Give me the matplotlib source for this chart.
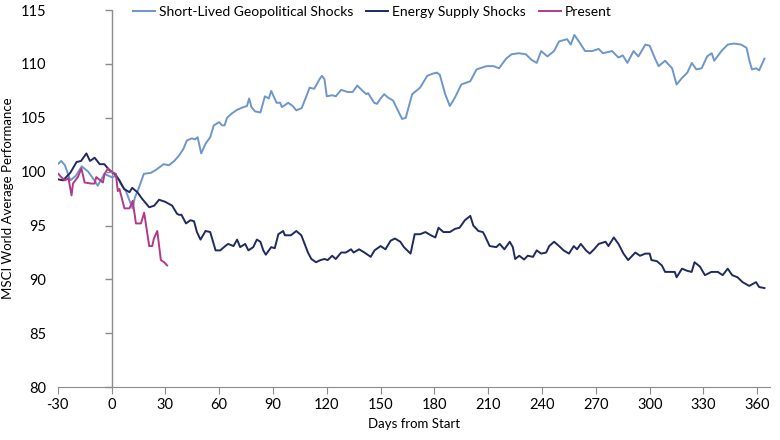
import numpy as np
import matplotlib
matplotlib.use("Agg")
import matplotlib.pyplot as plt

plt.rcParams['font.family'] = ['Lato', 'DejaVu Sans']
plt.rcParams['axes.unicode_minus'] = False

# Short-Lived Geopolitical Shocks
geo_days = [-30, -28, -26, -23, -20, -16.6, -13, -10, -7.7, -4, 0, 3, 5, 8, 11.7, 13, 15, 18, 22, 25, 29, 32, 35,
            37.6, 40, 42, 44.8, 46.5, 48, 50, 52.4, 55, 57, 60, 61.6, 63, 64.4, 67, 70, 73.6, 75.5, 76.7, 78, 80,
            83, 85.5, 87.7, 89, 92, 94, 95, 98.5, 101, 103, 106, 108.6, 110.4, 113, 116, 117.3, 118.7, 120, 123,
            125, 128, 131.6, 134.4, 137, 140, 142, 143, 146.4, 148, 150, 152, 154, 157, 159, 162, 164, 167.6,
            172, 176, 179, 181.4, 183, 186, 188.6, 191.5, 195, 200, 203.5, 209, 213, 216, 220, 223, 227, 231,
            234, 237, 239.5, 243, 246.7, 249.5, 254, 256, 258, 260.5, 264, 268, 271.5, 274, 279, 282.6, 285,
            287.6, 291, 293.7, 297.6, 300, 303, 305, 308.6, 312.5, 315, 318, 321, 323.5, 326, 329, 332, 334.6,
            336, 340, 343.5, 347, 351, 354, 355.6, 357, 359.5, 361, 364]
geo_vals = [100.7, 101.0, 100.6, 99.2, 99.6, 100.5, 100.0, 99.3, 98.7, 99.8, 99.5, 99.6, 98.9, 98.2, 96.6, 97.6,
            98.4, 99.8, 99.9, 100.2, 100.7, 100.6, 101.0,
            101.5, 102.1, 102.9, 103.1, 103.0, 103.2, 101.7, 102.6, 103.2, 104.3, 104.6, 104.3, 104.3, 105.0,
            105.4, 105.75, 106.0, 106.1, 106.8, 106.0, 105.6, 105.5, 107.0, 106.8, 107.5, 106.4, 106.4, 106.0,
            106.4, 106.1, 105.7, 105.9, 107.0, 107.8, 107.7, 108.6, 108.9, 108.6, 107.0, 107.1, 107.0, 107.6,
            107.4, 107.4, 108.0, 107.5, 107.2, 107.3, 106.4, 106.3, 106.8, 107.2, 106.9, 106.6, 105.9, 104.9,
            105.0, 107.2, 107.8, 108.9, 109.1, 109.2, 109.0, 107.2, 106.1, 106.9, 108.1, 108.4, 109.5, 109.8,
            109.8, 109.6, 110.5, 110.9, 111.0, 110.9, 110.4, 110.1, 111.2, 110.7, 111.2, 112.1, 112.3, 111.8,
            112.7, 112.1, 111.2, 111.2, 111.4, 111.0, 111.2, 110.6, 110.8, 110.1, 111.2, 110.7, 111.8, 111.7,
            110.5, 109.8, 110.3, 109.6, 108.1, 108.7, 109.2, 110.1, 109.5, 109.6, 110.7, 111.0, 110.3, 111.2,
            111.8, 111.9, 111.8, 111.5, 110.3, 109.5, 109.6, 109.4, 110.5]

# Energy Supply Shocks
energy_days = [-30, -27, -23, -19.5, -17, -14, -12, -9.4, -6.6, -4, -1, 1.6, 4.4, 7, 10, 11.5, 14.4, 17, 21,
               23.8, 26.5, 30, 33.8, 36.5, 37.6, 39, 41.5, 44, 46, 47.6, 49.6, 52.4, 55, 58, 60.6, 63.4, 65, 68,
               70, 71.7, 74.5, 76.3, 79, 81, 83, 84.6, 86, 89, 91, 93, 95.7, 96.6, 100, 103, 105.8, 109.5, 111.4,
               114, 116.5, 118.7, 120.5, 123, 125, 128, 130.6, 133.5, 135, 138, 141, 144.5, 146.6, 150, 152.7,
               155.6, 158, 161, 163, 166.7, 169, 172, 175, 178, 180.5, 182.3, 185, 188.6, 191.5, 194, 197, 200,
               201.7, 204.5, 207, 208, 210.8, 214.5, 216.4, 219, 222, 223.7, 225, 227.3, 230, 232, 235, 237,
               239.5, 242.3, 244, 246.7, 249.5, 252, 255, 257.7, 259.5, 261.6, 264.5, 266.6, 269, 271.6, 275.4,
               277, 280, 282.6, 285.4, 288, 292, 294.6, 297.6, 300, 301, 304, 306.8, 308.6, 311.4, 314, 315, 318,
               321, 323.4, 325, 328, 330.8, 334.4, 338, 340.7, 343.5, 346, 349, 351.8, 355.5, 359.3, 361, 364]
energy_vals = [99.3, 99.2, 99.9, 100.9, 101.0, 101.7, 101.0, 101.3, 100.7, 100.7, 100.1, 99.8, 99.2, 98.4, 98.1,
               98.5, 98.1, 97.5, 96.7, 96.85, 97.4, 97.2, 96.85, 96.1, 96.0, 96.0, 95.2, 95.5, 95.4, 94.4, 93.7,
               94.5, 94.4, 92.7, 92.7, 93.1, 93.3, 93.1, 93.7, 93.0, 93.3, 92.7, 93.0, 93.7, 93.5, 92.7, 92.3,
               93.0, 92.9, 94.2, 94.5, 94.1, 94.1, 94.5, 94.1, 92.5, 91.9, 91.6, 91.8, 91.9, 91.8, 92.2, 91.9,
               92.5, 92.5, 92.8, 92.5, 92.8, 92.5, 92.1, 92.7, 93.1, 92.8, 93.6, 93.8, 93.5, 93.0, 92.4, 94.2,
               94.2, 94.4, 94.1, 93.9, 94.8, 94.4, 94.4, 94.7, 94.8, 95.5, 95.9, 95.0, 94.5, 94.4, 94.1, 93.1,
               93.0, 93.3, 92.8, 93.5, 93.0, 91.9, 92.2, 91.85, 92.2, 92.1, 92.7, 92.4, 92.5, 93.1, 93.5, 93.1,
               92.7, 92.4, 93.1, 92.8, 93.3, 92.7, 92.4, 92.8, 93.3, 93.5, 93.1, 93.9, 93.3, 92.4, 91.8, 92.5,
               92.2, 92.4, 92.4, 91.8, 91.7, 91.3, 90.7, 90.7, 90.7, 90.2, 91.0, 90.8, 90.7, 91.6, 91.2, 90.4,
               90.7, 90.7, 90.4, 91.0, 90.4, 90.2, 89.75, 89.4, 89.75, 89.3, 89.2]

# Present
present_days = [-29.7, -28, -26, -24, -22.3, -21.5, -18.8, -16.8, -15, -11.3, -9.5, -8.5, -4.8, -3.9, -2, 0.5,
                2.4, 3.5, 4.4, 7.2, 10, 11.8, 13.6, 16.4, 18.2, 21, 22.7, 23.6, 25.5, 27.5, 29.3, 31]
present_vals = [99.8, 99.5, 99.2, 99.4, 97.8, 98.9, 99.5, 100.3, 99.0, 98.9, 98.9, 99.5, 99.0, 99.8, 100.3, 99.95,
                99.8, 98.2, 98.4, 96.6, 96.6, 97.3, 95.2, 95.2, 96.2, 93.1, 93.1, 93.8, 94.5, 91.8, 91.6, 91.3]

x_ticks = list(range(-30, 361, 30))
y_ticks = list(range(80, 116, 5))

grey = '#8c8c8c'
fig = plt.figure(figsize=(7.8, 4.4), dpi=100)
ax = fig.add_axes([0.074, 0.12, 0.913, 0.857])

ax.plot(geo_days, geo_vals, color='#6d96cc', lw=1.4, label='Short-Lived Geopolitical Shocks')
ax.plot(energy_days, energy_vals, color='#1f2b5e', lw=1.4, label='Energy Supply Shocks')
ax.plot(present_days, present_vals, color='#b0398a', lw=1.4, label='Present')

ax.set_xlim(-30, 367)
ax.set_ylim(80, 115)
ax.set_xticks(x_ticks)
ax.set_yticks(y_ticks)

for s in ['top', 'right', 'left']:
    ax.spines[s].set_visible(False)
ax.spines['bottom'].set_color(grey)
ax.axvline(0, color=grey, lw=1, zorder=1)
# y tick marks sit on the zero-day line, labels stay at the left edge
ax.plot([0] * len(y_ticks), y_ticks, ls='', marker=0, ms=5, mew=1, color=grey, clip_on=False)
ax.tick_params(axis='y', length=0, pad=8, labelsize=10.5)
ax.tick_params(axis='x', length=5, color=grey, labelsize=10.5, pad=3)

ax.set_xlabel('Days from Start', fontsize=9.5, labelpad=4)
ax.set_ylabel('MSCI World Average Performance', fontsize=9.5, labelpad=5)

fig.legend(loc='center left', bbox_to_anchor=(0.17, 1 - 12 / 440), ncol=3, frameon=False,
           fontsize=10, handlelength=1.6, handletextpad=0.3, columnspacing=0.9,
           borderaxespad=0, borderpad=0)

fig.savefig('out.png', dpi=100)
